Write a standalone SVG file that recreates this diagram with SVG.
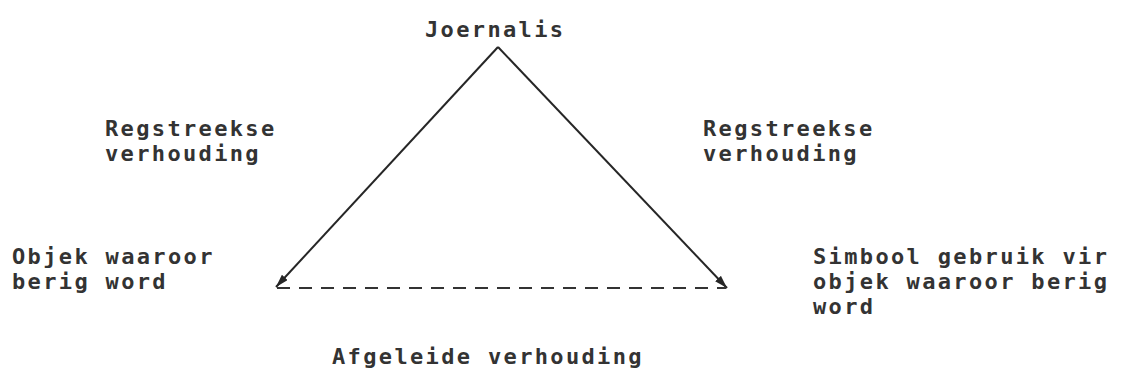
<svg xmlns="http://www.w3.org/2000/svg" width="1135" height="381" viewBox="0 0 1135 381">
<style>
.t{font-family:"DejaVu Sans Mono","Liberation Mono",monospace;font-size:22px;font-weight:bold;letter-spacing:2.35px;fill:#333}
.ln{stroke:#262626;stroke-width:2;fill:none}
.dash{stroke:#333;stroke-width:2;stroke-dasharray:13 9;fill:none}
</style>
<defs>
<marker id="ah" viewBox="0 0 13 8" refX="13" refY="4" markerWidth="13" markerHeight="8" markerUnits="userSpaceOnUse" orient="auto">
<path d="M0,0 L13,4 L0,8 Z" fill="#262626"/>
</marker>
</defs>
<rect width="1135" height="381" fill="#fff"/>
<g id="connectors">
<path class="ln" d="M498,47 L276,287" marker-end="url(#ah)"/>
<path class="ln" d="M498,47 L727,288" marker-end="url(#ah)"/>
<path class="dash" d="M277,288 L726,288"/>
</g>
<g id="joernalis"><text class="t" x="425" y="37">Joernalis</text></g>
<g id="label-left"><text class="t" x="105" y="136">Regstreekse</text><text class="t" x="105" y="161">verhouding</text></g>
<g id="label-right"><text class="t" x="703" y="136">Regstreekse</text><text class="t" x="703" y="161">verhouding</text></g>
<g id="objek"><text class="t" x="12" y="264">Objek waaroor</text><text class="t" x="12" y="289">berig word</text></g>
<g id="simbool"><text class="t" x="813" y="264">Simbool gebruik vir</text><text class="t" x="813" y="289">objek waaroor berig</text><text class="t" x="813" y="314">word</text></g>
<g id="label-bottom"><text class="t" x="332" y="364">Afgeleide verhouding</text></g>
</svg>
